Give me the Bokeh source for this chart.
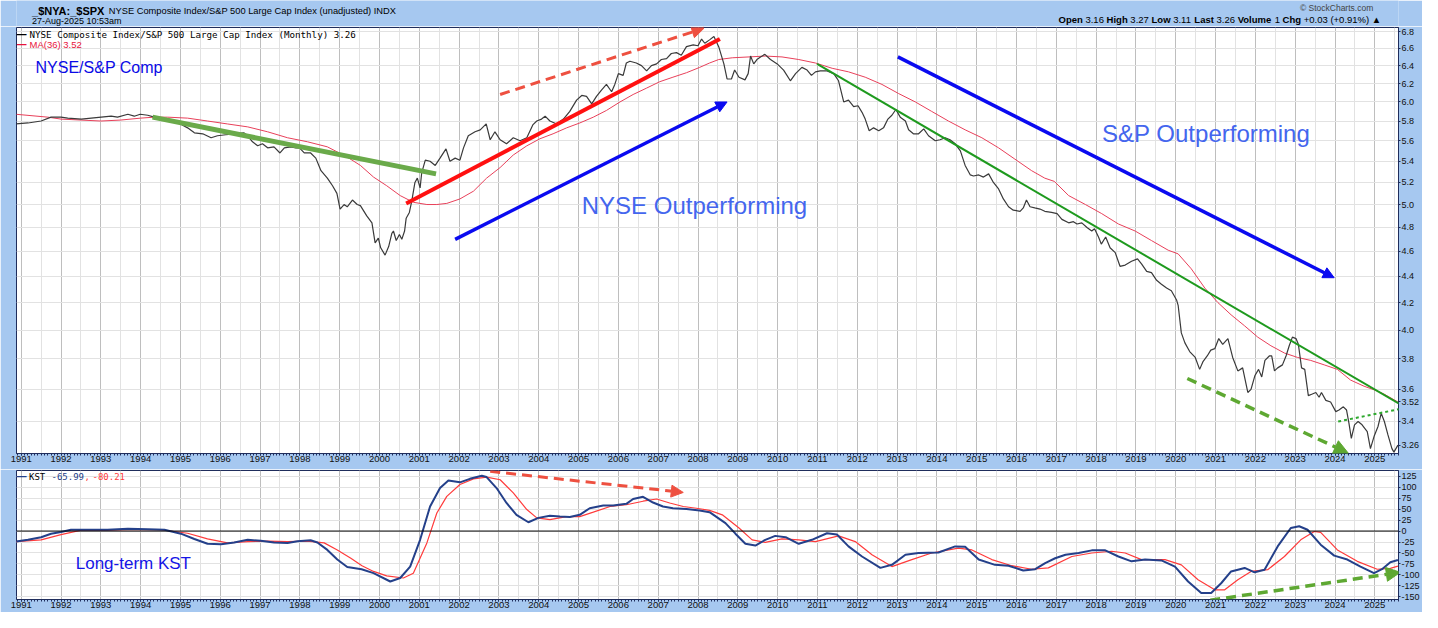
from bokeh.plotting import figure
from bokeh.layouts import column
from bokeh.models import (Range1d, FixedTicker, PrintfTickFormatter, Label,
                          Arrow, NormalHead, Span)
from bokeh.embed import file_html
from bokeh.resources import INLINE

# ---------------- data ----------------
price_years = [1990.87, 1991.17, 1991.50, 1991.75, 1992.00, 1992.17, 1992.51, 1992.76, 1993.01, 1993.26,
               1993.42, 1993.68, 1993.84, 1993.99, 1994.18, 1994.34, 1994.68, 1995.00, 1995.18, 1995.35,
               1995.56, 1995.77, 1995.93, 1996.14, 1996.35, 1996.59, 1996.69, 1996.81, 1996.94, 1997.06,
               1997.19, 1997.35, 1997.50, 1997.61, 1997.77, 1997.90, 1997.99, 1998.11, 1998.27, 1998.40,
               1998.53, 1998.69, 1998.82, 1998.93, 1999.01, 1999.11, 1999.19, 1999.32, 1999.44, 1999.52,
               1999.68, 1999.81, 1999.89, 1999.97, 2000.03, 2000.14, 2000.23, 2000.31, 2000.35, 2000.42,
               2000.50, 2000.56, 2000.63, 2000.67, 2000.75, 2000.81, 2000.89, 2000.95, 2001.02, 2001.06,
               2001.15, 2001.27, 2001.40, 2001.52, 2001.67, 2001.77, 2001.90, 2002.02, 2002.11, 2002.23,
               2002.40, 2002.53, 2002.68, 2002.78, 2002.90, 2003.03, 2003.19, 2003.36, 2003.53, 2003.70,
               2003.85, 2003.95, 2004.07, 2004.16, 2004.28, 2004.45, 2004.62, 2004.78, 2004.95, 2005.08,
               2005.20, 2005.33, 2005.45, 2005.58, 2005.70, 2005.83, 2005.91, 2006.00, 2006.12, 2006.20,
               2006.29, 2006.45, 2006.58, 2006.71, 2006.83, 2006.96, 2007.08, 2007.21, 2007.33, 2007.46,
               2007.58, 2007.71, 2007.88, 2008.00, 2008.09, 2008.17, 2008.29, 2008.40, 2008.52, 2008.65,
               2008.73, 2008.84, 2008.92, 2009.03, 2009.18, 2009.26, 2009.32, 2009.40, 2009.48, 2009.57,
               2009.68, 2009.82, 2009.99, 2010.15, 2010.32, 2010.45, 2010.61, 2010.74, 2010.85, 2010.95,
               2011.07, 2011.24, 2011.41, 2011.53, 2011.66, 2011.78, 2011.91, 2012.02, 2012.12, 2012.20,
               2012.30, 2012.41, 2012.54, 2012.66, 2012.77, 2012.87, 2012.97, 2013.08, 2013.21, 2013.29,
               2013.41, 2013.54, 2013.67, 2013.79, 2013.96, 2014.08, 2014.21, 2014.33, 2014.46, 2014.59,
               2014.71, 2014.84, 2014.92, 2015.05, 2015.17, 2015.30, 2015.42, 2015.55, 2015.67, 2015.80,
               2015.92, 2016.09, 2016.17, 2016.25, 2016.34, 2016.46, 2016.59, 2016.71, 2016.88, 2017.02,
               2017.14, 2017.31, 2017.43, 2017.52, 2017.64, 2017.77, 2017.89, 2017.96, 2018.06, 2018.13,
               2018.24, 2018.35, 2018.48, 2018.60, 2018.73, 2018.89, 2019.04, 2019.14, 2019.27, 2019.39,
               2019.52, 2019.64, 2019.77, 2019.89, 2020.02, 2020.06, 2020.14, 2020.23, 2020.35, 2020.49,
               2020.60, 2020.68, 2020.79, 2020.88, 2020.98, 2021.08, 2021.18, 2021.31, 2021.43, 2021.56,
               2021.68, 2021.81, 2021.89, 2021.99, 2022.08, 2022.16, 2022.24, 2022.35, 2022.41, 2022.48,
               2022.56, 2022.68, 2022.77, 2022.85, 2022.93, 2023.02, 2023.08, 2023.16, 2023.24, 2023.33,
               2023.43, 2023.52, 2023.60, 2023.66, 2023.77, 2023.89, 2024.02, 2024.10, 2024.21, 2024.29,
               2024.35, 2024.41, 2024.49, 2024.58, 2024.68, 2024.81, 2024.89, 2024.98, 2025.08, 2025.16,
               2025.24, 2025.33, 2025.43, 2025.48, 2025.58]
price_vals = [5.77, 5.78, 5.80, 5.84, 5.84, 5.83, 5.82, 5.83, 5.84, 5.85,
              5.84, 5.87, 5.85, 5.87, 5.86, 5.84, 5.81, 5.77, 5.73, 5.68,
              5.67, 5.63, 5.65, 5.66, 5.67, 5.68, 5.65, 5.59, 5.55, 5.57,
              5.53, 5.54, 5.48, 5.53, 5.54, 5.53, 5.53, 5.48, 5.48, 5.43,
              5.31, 5.24, 5.17, 5.10, 4.96, 5.00, 4.98, 5.04, 5.00, 4.99,
              4.90, 4.84, 4.67, 4.71, 4.63, 4.57, 4.64, 4.75, 4.77, 4.69,
              4.74, 4.70, 4.77, 4.88, 4.93, 5.03, 5.20, 5.24, 5.15, 5.29,
              5.41, 5.40, 5.36, 5.43, 5.52, 5.40, 5.43, 5.41, 5.53, 5.65,
              5.69, 5.71, 5.77, 5.61, 5.69, 5.61, 5.57, 5.63, 5.60, 5.63,
              5.76, 5.80, 5.82, 5.85, 5.80, 5.77, 5.82, 5.90, 6.02, 6.07,
              6.06, 5.98, 6.06, 6.13, 6.19, 6.11, 6.19, 6.31, 6.29, 6.43,
              6.45, 6.43, 6.40, 6.34, 6.40, 6.42, 6.47, 6.48, 6.54, 6.55,
              6.52, 6.62, 6.64, 6.63, 6.71, 6.66, 6.70, 6.74, 6.62, 6.42,
              6.25, 6.25, 6.35, 6.27, 6.24, 6.31, 6.51, 6.42, 6.47, 6.50,
              6.53, 6.47, 6.42, 6.35, 6.23, 6.31, 6.38, 6.35, 6.29, 6.33,
              6.34, 6.34, 6.31, 6.23, 6.00, 6.02, 5.95, 5.96, 5.89, 5.82,
              5.70, 5.73, 5.70, 5.73, 5.82, 5.86, 5.92, 5.84, 5.80, 5.71,
              5.67, 5.67, 5.72, 5.65, 5.60, 5.61, 5.63, 5.61, 5.57, 5.50,
              5.36, 5.27, 5.26, 5.27, 5.25, 5.28, 5.20, 5.14, 5.05, 4.98,
              4.95, 4.94, 4.97, 5.04, 4.98, 4.97, 4.96, 4.94, 4.93, 4.92,
              4.87, 4.84, 4.85, 4.83, 4.84, 4.80, 4.77, 4.79, 4.72, 4.66,
              4.72, 4.63, 4.59, 4.48, 4.49, 4.52, 4.54, 4.50, 4.44, 4.43,
              4.37, 4.34, 4.31, 4.29, 4.22, 4.18, 3.98, 3.91, 3.85, 3.81,
              3.73, 3.78, 3.82, 3.86, 3.87, 3.94, 3.90, 3.94, 3.81, 3.72,
              3.74, 3.58, 3.60, 3.69, 3.73, 3.68, 3.79, 3.82, 3.82, 3.72,
              3.74, 3.76, 3.82, 3.89, 3.95, 3.94, 3.90, 3.74, 3.73, 3.56,
              3.57, 3.58, 3.55, 3.58, 3.53, 3.52, 3.46, 3.47, 3.49, 3.47,
              3.39, 3.30, 3.38, 3.40, 3.38, 3.34, 3.24, 3.31, 3.37, 3.45,
              3.40, 3.32, 3.24, 3.22, 3.26]

ma_years = [1990.87, 1991.67, 1992.00, 1992.50, 1993.00, 1993.50, 1994.00, 1994.34, 1994.68, 1995.18,
            1995.68, 1996.18, 1996.69, 1997.19, 1997.69, 1998.19, 1998.69, 1999.19, 1999.52, 1999.85,
            2000.18, 2000.52, 2000.85, 2001.19, 2001.44, 2001.69, 2002.02, 2002.36, 2002.69, 2003.03,
            2003.36, 2003.70, 2004.03, 2004.36, 2004.70, 2005.03, 2005.37, 2005.70, 2006.04, 2006.37,
            2006.71, 2007.04, 2007.37, 2007.71, 2008.04, 2008.29, 2008.52, 2008.86, 2009.28, 2009.69,
            2010.11, 2010.53, 2010.95, 2011.37, 2011.78, 2012.20, 2012.62, 2013.04, 2013.46, 2013.87,
            2014.29, 2014.71, 2015.13, 2015.55, 2015.96, 2016.38, 2016.71, 2016.95, 2017.31, 2017.73,
            2018.14, 2018.56, 2018.98, 2019.39, 2019.81, 2020.06, 2020.39, 2020.73, 2021.06, 2021.39,
            2021.73, 2022.06, 2022.39, 2022.73, 2023.06, 2023.39, 2023.73, 2024.06, 2024.39, 2024.73,
            2025.06, 2025.23, 2025.58]
ma_vals = [5.87, 5.84, 5.82, 5.81, 5.80, 5.81, 5.83, 5.84, 5.84, 5.83,
           5.80, 5.77, 5.74, 5.69, 5.63, 5.59, 5.54, 5.44, 5.36, 5.25,
           5.17, 5.08, 5.02, 5.00, 5.00, 5.01, 5.05, 5.12, 5.24, 5.34,
           5.46, 5.55, 5.62, 5.67, 5.73, 5.78, 5.84, 5.91, 6.00, 6.08,
           6.15, 6.22, 6.27, 6.32, 6.38, 6.43, 6.47, 6.49, 6.50, 6.51,
           6.50, 6.47, 6.43, 6.37, 6.33, 6.27, 6.19, 6.09, 6.00, 5.90,
           5.80, 5.71, 5.63, 5.53, 5.42, 5.31, 5.24, 5.21, 5.08, 5.00,
           4.92, 4.83, 4.77, 4.69, 4.61, 4.58, 4.46, 4.31, 4.20, 4.11,
           4.03, 3.95, 3.89, 3.84, 3.81, 3.79, 3.76, 3.73, 3.66, 3.62,
           3.59, 3.57, 3.52]

kst_years = [1990.87, 1991.17, 1991.50, 1991.75, 1992.00, 1992.25, 1992.67, 1993.17, 1993.68, 1994.18,
             1994.60, 1995.01, 1995.35, 1995.68, 1996.02, 1996.35, 1996.69, 1997.02, 1997.35, 1997.69,
             1997.94, 1998.27, 1998.44, 1998.69, 1998.94, 1999.19, 1999.55, 1999.85, 2000.27, 2000.52,
             2000.77, 2001.02, 2001.27, 2001.52, 2001.73, 2002.02, 2002.27, 2002.57, 2002.69, 2002.94,
             2003.19, 2003.44, 2003.74, 2003.99, 2004.28, 2004.53, 2004.78, 2005.03, 2005.28, 2005.62,
             2005.87, 2006.20, 2006.37, 2006.62, 2006.87, 2007.12, 2007.37, 2007.71, 2008.04, 2008.29,
             2008.69, 2008.94, 2009.19, 2009.44, 2009.69, 2009.94, 2010.20, 2010.53, 2010.86, 2011.24,
             2011.49, 2011.78, 2012.12, 2012.58, 2012.87, 2013.21, 2013.54, 2014.04, 2014.46, 2014.71,
             2015.05, 2015.46, 2015.80, 2016.17, 2016.47, 2016.72, 2016.97, 2017.23, 2017.56, 2017.89,
             2018.23, 2018.56, 2018.89, 2019.23, 2019.64, 2019.98, 2020.31, 2020.64, 2020.89, 2021.14,
             2021.39, 2021.73, 2021.98, 2022.23, 2022.56, 2022.89, 2023.10, 2023.31, 2023.64, 2023.98,
             2024.31, 2024.64, 2024.98, 2025.18, 2025.39, 2025.58]
kst_vals = [-24, -20, -14, -6, -2, 3, 3, 3, 5, 4,
            3, -6, -18, -29, -30, -26, -20, -22, -26, -27,
            -23, -21, -26, -43, -65, -82, -87, -96, -115, -107,
            -81, -20, 56, 98, 115, 111, 119, 126, 123, 98,
            64, 37, 20, 30, 35, 33, 32, 37, 52, 58,
            58, 62, 73, 78, 65, 56, 52, 50, 47, 43,
            18, -6, -29, -33, -20, -11, -14, -29, -20, -5,
            -8, -35, -58, -84, -77, -54, -50, -49, -35, -36,
            -65, -77, -79, -90, -87, -73, -62, -54, -50, -44,
            -44, -58, -69, -65, -67, -81, -115, -141, -141, -119,
            -92, -84, -94, -88, -35, 7, 11, 3, -31, -56,
            -65, -81, -96, -87, -71, -66]

sig_years = [1990.87, 1991.50, 1992.00, 1992.51, 1993.17, 1993.68, 1994.51, 1995.18, 1995.68, 1996.18,
             1996.69, 1997.19, 1997.69, 1998.19, 1998.61, 1998.94, 1999.28, 1999.56, 1999.85, 2000.18,
             2000.60, 2000.85, 2001.19, 2001.44, 2001.69, 2002.02, 2002.36, 2002.69, 2003.03, 2003.36,
             2003.70, 2003.95, 2004.28, 2004.70, 2005.03, 2005.37, 2005.79, 2006.20, 2006.62, 2006.96,
             2007.29, 2007.63, 2007.96, 2008.29, 2008.61, 2009.03, 2009.36, 2009.69, 2010.11, 2010.53,
             2010.95, 2011.53, 2011.95, 2012.37, 2012.87, 2013.37, 2013.87, 2014.54, 2014.88, 2015.38,
             2015.88, 2016.38, 2016.80, 2017.39, 2017.89, 2018.39, 2018.73, 2019.14, 2019.73, 2020.14,
             2020.56, 2020.98, 2021.23, 2021.56, 2021.89, 2022.31, 2022.73, 2023.14, 2023.48, 2023.64,
             2024.06, 2024.56, 2025.06, 2025.39, 2025.58]
sig_vals = [-24, -20, -8, 2, 2, 3, 3, -5, -18, -27,
            -24, -23, -24, -23, -27, -43, -62, -79, -92, -102,
            -107, -96, -27, 41, 79, 106, 119, 123, 117, 87,
            49, 30, 26, 33, 33, 43, 56, 60, 68, 73,
            64, 56, 52, 47, 37, 7, -20, -26, -18, -20,
            -24, -11, -24, -54, -81, -65, -50, -39, -43, -65,
            -79, -87, -84, -58, -50, -46, -50, -65, -65, -77,
            -111, -134, -134, -111, -92, -88, -58, -20, -1, -3,
            -43, -69, -87, -85, -80]

year_ticks = list(range(1991, 2026))
year_labels = [str(y) for y in year_ticks]
price_ticks = [3.4, 3.6, 3.8, 4.0, 4.2, 4.4, 4.6, 4.8, 5.0, 5.2, 5.4, 5.6, 5.8, 6.0, 6.2, 6.4, 6.6, 6.8]
kst_ticks = [-150, -125, -100, -75, -50, -25, 0, 25, 50, 75, 100, 125]

last_price = 3.26
last_ma = 3.52
last_kst = -65.99
last_sig = -80.21

# annotation trend lines / arrows: [x_start, y_start, x_end, y_end]
green_top_1994 = [1994.30, 5.84, 2001.42, 5.28]
red_trend_2000 = [2000.67, 5.01, 2008.55, 6.71]
red_dash_2003 = [2003.03, 6.08, 2008.15, 6.84]
blue_up_arrow = [2001.90, 4.70, 2008.73, 6.00]
green_down_2011 = [2010.99, 6.42, 2026.02, 3.45]
blue_down_arrow = [2013.02, 6.50, 2023.98, 4.39]
green_dash_2020 = [2020.29, 3.67, 2024.33, 3.215]
green_dot_2024 = [2024.08, 3.40, 2025.90, 3.49]
kst_red_dash = [2002.78, 136, 2007.63, 88]
kst_green_dash = [2020.47, -163, 2025.64, -94]

# ---------------- layout / style ----------------
W = 1422
L, R = 16, 22
FW = W - L - R
HH = 26                 # header strip
T1, F1, B1 = 1, 426, 16
T2, F2, B2 = 1, 129, 13
H1 = T1 + F1 + B1
H2 = T2 + F2 + B2
PX_PER_YEAR = 39.87
X0 = 1991 - (20.7 - L) / PX_PER_YEAR
XR = (X0, X0 + FW / PX_PER_YEAR)

BG = "#A6C8F0"
NAVY = "#1F2D5C"
GRID = "#E2E2E2"
YGRID = "#BEBEBE"
SANS = "Liberation Sans"
MONO = "DejaVu Sans Mono"

month_ticks = [y + m / 12 for y in range(1990, 2026) for m in range(12)]
half_ticks = [y + 0.5 for y in range(1990, 2026)]


def style_x(p):
    p.xaxis.ticker = FixedTicker(ticks=year_ticks, minor_ticks=month_ticks)
    p.xaxis.major_label_overrides = {y: s for y, s in zip(year_ticks, year_labels)}
    p.xaxis.formatter = PrintfTickFormatter(format="%d")
    p.xaxis.major_label_text_font = SANS
    p.xaxis.major_label_text_font_size = "9.5px"
    p.xaxis.major_label_text_color = "#111111"
    p.xaxis.major_label_standoff = 0
    p.xaxis.major_tick_out = 2
    p.xaxis.major_tick_in = 0
    p.xaxis.minor_tick_out = 2
    p.xaxis.minor_tick_in = 0
    p.xaxis.axis_line_color = NAVY
    p.xaxis.major_tick_line_color = NAVY
    p.xaxis.minor_tick_line_color = NAVY
    p.xgrid.ticker = FixedTicker(ticks=year_ticks, minor_ticks=half_ticks)
    p.xgrid.grid_line_color = YGRID
    p.xgrid.minor_grid_line_color = GRID


def style_y(p, ticks, grid_ticks, fmt, overrides):
    p.yaxis.ticker = FixedTicker(ticks=ticks)
    p.yaxis.formatter = PrintfTickFormatter(format=fmt)
    p.yaxis.major_label_overrides = overrides
    p.yaxis.major_label_text_font = SANS
    p.yaxis.major_label_text_font_size = "9px"
    p.yaxis.major_label_text_color = "#111111"
    p.yaxis.major_label_standoff = 1
    p.yaxis.major_tick_out = 2
    p.yaxis.major_tick_in = 0
    p.yaxis.minor_tick_line_color = None
    p.yaxis.axis_line_color = NAVY
    p.yaxis.major_tick_line_color = NAVY
    p.ygrid.ticker = FixedTicker(ticks=grid_ticks)
    p.ygrid.grid_line_color = GRID


def seg(p, c, color, width, dash="solid", head=0):
    end = NormalHead(size=head, fill_color=color, line_color=color, line_width=1) if head else None
    p.add_layout(Arrow(end=end, x_start=c[0], y_start=c[1], x_end=c[2], y_end=c[3],
                       line_color=color, line_width=width, line_dash=dash))


def lab(p, x, y, text, size, color="black", font=SANS, style="normal", align="left",
        xu="screen", yu="screen"):
    p.add_layout(Label(x=x, y=y, x_units=xu, y_units=yu, text=text, text_font=font,
                       text_font_size=size, text_color=color, text_font_style=style,
                       text_align=align, text_baseline="middle"))


def sx(rx):            # reference x -> frame-relative x
    return rx - L


# ---------------- header strip ----------------
hdr = figure(width=W, height=HH, x_range=Range1d(0, W), y_range=Range1d(HH, 0),
             x_axis_location=None, y_axis_location=None, toolbar_location=None,
             output_backend="svg", min_border=0, min_border_left=0, min_border_right=0,
             min_border_top=0, min_border_bottom=0, border_fill_color=BG,
             background_fill_color=BG, outline_line_color=None)
hdr.grid.visible = False


def hlab(rx, ry, text, size, color="black", style="normal", align="left"):
    lab(hdr, rx, ry, text, size, color, style=style, align=align, xu="data", yu="data")


hlab(16, 10, "_$NYA:_$SPX", "11px", style="bold")
hlab(95, 10, "NYSE Composite Index/S&P 500 Large Cap Index (unadjusted) INDX", "9.3px")
hlab(16, 20.5, "27-Aug-2025 10:53am", "9px")
hlab(1396, 7, "\u00a9 StockCharts.com", "8.5px", "#444444", align="right")

AR = {' ': .278, '.': .278, ',': .278, '+': .584, '(': .333, ')': .333, '%': .889, '\u25b2': .75}
ARB = {'O': .778, 'p': .611, 'e': .556, 'n': .611, ' ': .278, 'H': .722, 'i': .278, 'g': .611,
       'h': .611, 'L': .611, 'o': .611, 'w': .778, 'a': .556, 's': .556, 't': .333, 'V': .667,
       'l': .278, 'u': .611, 'm': .889, 'C': .722}
quote = [("Open ", True), ("3.16 ", False), ("High ", True), ("3.27 ", False), ("Low ", True),
         ("3.11 ", False), ("Last ", True), ("3.26 ", False), ("Volume ", True), ("1 ", False),
         ("Chg ", True), ("+0.03 (+0.91%) \u25b2", False)]
QS = 9.5
widths = [sum((ARB if b else AR).get(ch, .556) for ch in s) * QS * 1.03 for s, b in quote]
qx = 1402 - sum(widths)
for (s, b), w in zip(quote, widths):
    hlab(qx, 19, s.rstrip(), f"{QS}px", style="bold" if b else "normal")
    qx += w

# ---------------- top panel ----------------
p1 = figure(width=W, height=H1, x_range=Range1d(*XR), y_range=Range1d(3.212, 6.849),
            y_axis_type="log", y_axis_location="right", toolbar_location=None,
            output_backend="svg", min_border_left=L, min_border_right=R,
            min_border_top=T1, min_border_bottom=B1, border_fill_color=BG,
            background_fill_color="white", outline_line_color=NAVY)
style_x(p1)
style_y(p1, price_ticks + [last_ma, last_price], price_ticks, "%.1f",
        {last_ma: f"{last_ma:.2f}", last_price: f"{last_price:.2f}"})

p1.line(ma_years, ma_vals, line_color="#E8405A", line_width=1)
p1.line(price_years, price_vals, line_color="#3A3A3A", line_width=1.2)

seg(p1, green_top_1994, "#6AAA4A", 5)
seg(p1, red_trend_2000, "#FF1010", 4)
seg(p1, red_dash_2003, "#EE5040", 3, "10 6", 12)
seg(p1, blue_up_arrow, "#0A0AF0", 3.5, "solid", 11)
seg(p1, green_down_2011, "#1E9A1E", 2)
seg(p1, blue_down_arrow, "#0A0AF0", 3.5, "solid", 11)
seg(p1, green_dash_2020, "#5EA832", 3.5, "10 6", 14)
seg(p1, green_dot_2024, "#2EA82E", 2, "3 3")

lab(p1, 1991.36, 6.38, "NYSE/S&P Comp", "16px", "#0A0AE6", xu="data", yu="data")
lab(p1, 2005.08, 4.99, "NYSE Outperforming", "24px", "#4466EE", xu="data", yu="data")
lab(p1, 2018.15, 5.67, "S&P Outperforming", "24px", "#4466EE", xu="data", yu="data")

# legend (frame top is at reference y = 27)
lab(p1, sx(16), F1 - (34 - 27), "\u2014", "10px", "black", style="bold")
lab(p1, sx(29), F1 - (34 - 27), "NYSE Composite Index/S&P 500 Large Cap Index (Monthly) 3.26", "9.2px",
    "black", font=MONO)
lab(p1, sx(16), F1 - (43.5 - 27), "\u2014", "10px", "#E8143C", style="bold")
lab(p1, sx(29), F1 - (43.5 - 27), "MA(36) 3.52", "9.5px", "#E8143C")

# ---------------- KST panel ----------------
p2 = figure(width=W, height=H2, x_range=p1.x_range, y_range=Range1d(-156, 138),
            y_axis_location="right", toolbar_location=None, output_backend="svg",
            min_border_left=L, min_border_right=R, min_border_top=T2, min_border_bottom=B2,
            border_fill_color=BG, background_fill_color="white", outline_line_color=NAVY)
style_x(p2)
style_y(p2, kst_ticks, kst_ticks, "%d", {})
p2.add_layout(Span(location=0, dimension="width", line_color="black", line_width=1))

p2.line(sig_years, sig_vals, line_color="#FF3B3B", line_width=1.2)
p2.line(kst_years, kst_vals, line_color="#24408A", line_width=2)

seg(p2, kst_red_dash, "#EE5040", 3, "10 6", 12)
seg(p2, kst_green_dash, "#5EA832", 3.5, "10 6", 14)

lab(p2, 1992.37, -75, "Long-term KST", "17px", "#1515E6", xu="data", yu="data")

ky = F2 - 6
lab(p2, sx(16), ky, "\u2014", "10px", "#24408A", style="bold")
lab(p2, sx(28.5), ky, "KST", "9px", "black", font=MONO)
lab(p2, sx(51), ky, f"{last_kst:.2f}", "9px", "#24408A", font=MONO)
lab(p2, sx(84), ky, ",", "9px", "#FF3B3B", font=MONO)
lab(p2, sx(92), ky, f"{last_sig:.2f}", "9px", "#FF3B3B", font=MONO)

layout = column(hdr, p1, p2, spacing=0)
open("out.html", "w").write(file_html(layout, INLINE))
